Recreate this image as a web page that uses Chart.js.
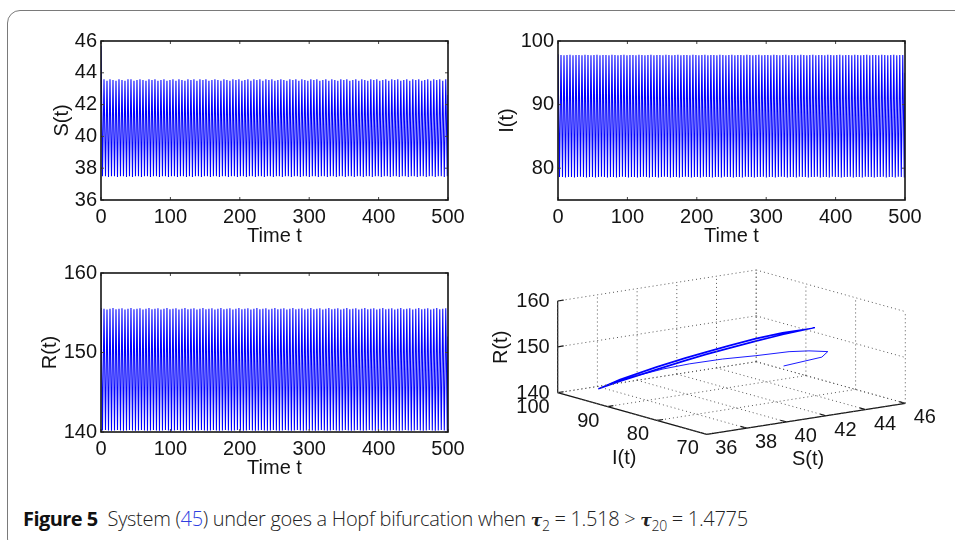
<!DOCTYPE html>
<html>
<head>
<meta charset="utf-8">
<title>Figure 5</title>
<script src="https://cdn.jsdelivr.net/npm/chart.js@4"></script>
<style>
html, body { margin: 0; padding: 0; background: #fff; width: 955px; height: 540px; overflow: hidden; }
#frame { position: absolute; left: 6.5px; top: 10px; width: 960px; height: 540px; border: 1.5px solid #7a7a7a; border-radius: 13px; }
canvas { position: absolute; }
#caption { position: absolute; left: 23px; top: 505px; font: 300 20px "Open Sans", sans-serif; color: #222; white-space: nowrap; letter-spacing: -0.3px; }
#caption b { font-weight: 700; color: #111; margin-right: 5px; letter-spacing: -0.55px; }
#caption span { color: #2f3fe0; }
#caption i { font-family: "DejaVu Serif", serif; font-weight: 700; font-size: 17px; }
#caption sub { font-size: 14px; line-height: 0; }
</style>
</head>
<body>
<div id="frame"></div>
<canvas id="chartS" style="left:40px;top:24px"></canvas>
<canvas id="chartI" style="left:490px;top:24px"></canvas>
<canvas id="chartR" style="left:20px;top:256px"></canvas>
<canvas id="chart3d" style="left:490px;top:260px"></canvas>
<div id="caption"><b>Figure 5</b> System (<span>45</span>) under goes a Hopf bifurcation when <i>τ</i><sub>2</sub> = 1.518 &gt; <i>τ</i><sub>20</sub> = 1.4775</div>

<script>
// time of each turning point
const times = [
  0,2.16,4.32,6.48,8.64,10.8,12.96,15.12,17.28,19.44,
  21.6,23.76,25.92,28.08,30.24,32.4,34.56,36.72,38.88,41.04,
  43.2,45.36,47.52,49.68,51.84,54,56.16,58.32,60.48,62.64,
  64.8,66.96,69.12,71.28,73.44,75.6,77.76,79.92,82.08,84.24,
  86.4,88.56,90.72,92.88,95.04,97.2,99.36,101.52,103.68,105.84,
  108,110.16,112.32,114.48,116.64,118.8,120.96,123.12,125.28,127.44,
  129.6,131.76,133.92,136.08,138.24,140.4,142.56,144.72,146.88,149.04,
  151.2,153.36,155.52,157.68,159.84,162,164.16,166.32,168.48,170.64,
  172.8,174.96,177.12,179.28,181.44,183.6,185.76,187.92,190.08,192.24,
  194.4,196.56,198.72,200.88,203.04,205.2,207.36,209.52,211.68,213.84,
  216,218.16,220.32,222.48,224.64,226.8,228.96,231.12,233.28,235.44,
  237.6,239.76,241.92,244.08,246.24,248.4,250.56,252.72,254.88,257.04,
  259.2,261.36,263.52,265.68,267.84,270,272.16,274.32,276.48,278.64,
  280.8,282.96,285.12,287.28,289.44,291.6,293.76,295.92,298.08,300.24,
  302.4,304.56,306.72,308.88,311.04,313.2,315.36,317.52,319.68,321.84,
  324,326.16,328.32,330.48,332.64,334.8,336.96,339.12,341.28,343.44,
  345.6,347.76,349.92,352.08,354.24,356.4,358.56,360.72,362.88,365.04,
  367.2,369.36,371.52,373.68,375.84,378,380.16,382.32,384.48,386.64,
  388.8,390.96,393.12,395.28,397.44,399.6,401.76,403.92,406.08,408.24,
  410.4,412.56,414.72,416.88,419.04,421.2,423.36,425.52,427.68,429.84,
  432,434.16,436.32,438.48,440.64,442.8,444.96,447.12,449.28,451.44,
  453.6,455.76,457.92,460.08,462.24,464.4,466.56,468.72,470.88,473.04,
  475.2,477.36,479.52,481.68,483.84,486,488.16,490.32,492.48,494.64,
  496.8,498.96,500
];

const valuesS = [
  45.7,37.5,43.6,37.5,43.5,37.45,43.6,37.5,43.55,37.5,
  43.5,37.45,43.6,37.5,43.55,37.5,43.5,37.45,43.6,37.5,
  43.6,37.45,43.5,37.5,43.55,37.5,43.6,37.45,43.55,37.5,
  43.5,37.5,43.6,37.45,43.55,37.5,43.6,37.5,43.5,37.45,
  43.55,37.5,43.6,37.5,43.5,37.45,43.55,37.5,43.6,37.5,
  43.5,37.45,43.6,37.5,43.55,37.5,43.5,37.45,43.6,37.5,
  43.55,37.45,43.6,37.5,43.5,37.5,43.6,37.45,43.55,37.5,
  43.6,37.5,43.5,37.45,43.55,37.5,43.6,37.5,43.55,37.45,
  43.5,37.5,43.6,37.5,43.55,37.45,43.5,37.5,43.6,37.5,
  43.55,37.45,43.6,37.5,43.5,37.5,43.55,37.45,43.6,37.5,
  43.5,37.5,43.6,37.45,43.55,37.5,43.6,37.5,43.5,37.45,
  43.6,37.5,43.55,37.5,43.6,37.45,43.5,37.5,43.55,37.5,
  43.6,37.45,43.55,37.5,43.5,37.5,43.6,37.45,43.55,37.5,
  43.6,37.5,43.5,37.45,43.6,37.5,43.55,37.5,43.5,37.45,
  43.6,37.5,43.55,37.5,43.6,37.45,43.5,37.5,43.55,37.5,
  43.6,37.45,43.5,37.5,43.6,37.5,43.55,37.45,43.5,37.5,
  43.6,37.5,43.55,37.45,43.6,37.5,43.5,37.5,43.55,37.45,
  43.6,37.5,43.5,37.5,43.6,37.45,43.55,37.5,43.5,37.5,
  43.6,37.45,43.55,37.5,43.6,37.5,43.5,37.45,43.55,37.5,
  43.6,37.5,43.5,37.45,43.6,37.5,43.55,37.5,43.6,37.45,
  43.5,37.5,43.55,37.5,43.6,37.45,43.5,37.5,43.6,37.5,
  43.55,37.45,43.6,37.5,43.5,37.5,43.55,37.45,43.6,37.5,
  43.5,37.5,43.6,37.45,43.55,37.5,43.6,37.5,43.5,37.45,
  43.6,37.5,42.6
];

const valuesI = [
  97.9,78.6,97.8,78.6,97.75,78.55,97.8,78.6,97.85,78.6,
  97.75,78.55,97.8,78.6,97.8,78.65,97.75,78.6,97.85,78.55,
  97.8,78.6,97.75,78.6,97.8,78.55,97.85,78.6,97.75,78.65,
  97.8,78.6,97.8,78.55,97.75,78.6,97.85,78.6,97.8,78.55,
  97.75,78.6,97.8,78.65,97.85,78.6,97.75,78.55,97.8,78.6,
  97.8,78.6,97.75,78.55,97.85,78.6,97.8,78.65,97.75,78.6,
  97.8,78.55,97.85,78.6,97.75,78.6,97.8,78.55,97.8,78.6,
  97.75,78.65,97.85,78.6,97.8,78.55,97.75,78.6,97.8,78.6,
  97.85,78.55,97.75,78.6,97.8,78.65,97.8,78.6,97.75,78.55,
  97.85,78.6,97.8,78.6,97.75,78.55,97.8,78.65,97.85,78.6,
  97.75,78.6,97.8,78.55,97.8,78.6,97.75,78.6,97.85,78.55,
  97.8,78.65,97.75,78.6,97.8,78.6,97.85,78.55,97.75,78.6,
  97.8,78.6,97.8,78.55,97.75,78.65,97.85,78.6,97.8,78.6,
  97.75,78.55,97.8,78.6,97.85,78.6,97.75,78.65,97.8,78.55,
  97.8,78.6,97.75,78.6,97.85,78.55,97.8,78.6,97.75,78.65,
  97.8,78.6,97.85,78.55,97.75,78.6,97.8,78.6,97.8,78.55,
  97.75,78.65,97.85,78.6,97.8,78.6,97.75,78.55,97.8,78.6,
  97.85,78.6,97.75,78.65,97.8,78.55,97.8,78.6,97.75,78.6,
  97.85,78.55,97.8,78.65,97.75,78.6,97.8,78.6,97.85,78.55,
  97.75,78.6,97.8,78.6,97.8,78.65,97.75,78.55,97.85,78.6,
  97.8,78.6,97.75,78.55,97.8,78.65,97.85,78.6,97.75,78.6,
  97.8,78.55,97.8,78.6,97.75,78.6,97.85,78.65,97.8,78.55,
  97.75,78.6,97.8,78.6,97.85,78.55,97.75,78.65,97.8,78.6,
  97.8,78.55,95
];

const valuesR = [
  155.6,140.2,155.5,140.25,155.4,140.2,155.5,140.15,155.6,140.2,
  155.45,140.25,155.5,140.2,155.55,140.15,155.4,140.2,155.5,140.25,
  155.6,140.2,155.45,140.15,155.5,140.2,155.55,140.25,155.4,140.2,
  155.5,140.15,155.6,140.2,155.45,140.25,155.5,140.2,155.55,140.15,
  155.4,140.2,155.5,140.25,155.6,140.2,155.45,140.15,155.5,140.2,
  155.55,140.25,155.4,140.2,155.5,140.15,155.6,140.2,155.45,140.25,
  155.5,140.2,155.55,140.15,155.4,140.2,155.5,140.25,155.6,140.2,
  155.45,140.15,155.5,140.2,155.55,140.25,155.4,140.2,155.5,140.15,
  155.6,140.2,155.45,140.25,155.5,140.2,155.55,140.15,155.4,140.2,
  155.5,140.25,155.6,140.2,155.45,140.15,155.5,140.2,155.55,140.25,
  155.4,140.2,155.5,140.15,155.6,140.2,155.45,140.25,155.5,140.2,
  155.55,140.15,155.4,140.2,155.5,140.25,155.6,140.2,155.45,140.15,
  155.5,140.2,155.55,140.25,155.4,140.2,155.5,140.15,155.6,140.2,
  155.45,140.25,155.5,140.2,155.55,140.15,155.4,140.2,155.5,140.25,
  155.6,140.2,155.45,140.15,155.5,140.2,155.55,140.25,155.4,140.2,
  155.5,140.15,155.6,140.2,155.45,140.25,155.5,140.2,155.55,140.15,
  155.4,140.2,155.5,140.25,155.6,140.2,155.45,140.15,155.5,140.2,
  155.55,140.25,155.4,140.2,155.5,140.15,155.6,140.2,155.45,140.25,
  155.5,140.2,155.55,140.15,155.4,140.2,155.5,140.25,155.6,140.2,
  155.45,140.15,155.5,140.2,155.55,140.25,155.4,140.2,155.5,140.15,
  155.6,140.2,155.45,140.25,155.5,140.2,155.55,140.15,155.4,140.2,
  155.5,140.25,155.6,140.2,155.45,140.15,155.5,140.2,155.55,140.25,
  155.4,140.2,155.5,140.15,155.6,140.2,155.45,140.25,155.5,140.2,
  155.55,140.15,152
];

// 3d phase plot: start-up curve, then the closed cycle
const startS = [44,45.2,45.5,44.5,43.5,41.8,40.5,39.5,38.8,38.1,37.5];
const startI = [86.5,83.6,83.6,83.4,83.4,83.3,84.8,87.5,90,95.9,97.8];
const startR = [144.5,146.5,147.5,148.4,148.9,149.2,148.9,147.7,146.3,142.6,140.5];

const cycleS = [
  37.5,38.11,39.13,39.94,40.53,41.16,41.93,42.69,43.6,
  42.69,41.93,41.16,40.53,39.94,39.13,38.11,37.5,
  38.11,39.13,39.94,40.53,41.16,41.93,42.69,43.6,
  42.69,41.93,41.16,40.53,39.94,39.13,38.11,37.5
];
const cycleI = [
  97.8,95.88,92.67,90.12,88.26,86.28,83.84,81.48,78.6,
  81.48,83.84,86.28,88.26,90.12,92.67,95.88,97.8,
  95.88,92.67,90.12,88.26,86.28,83.84,81.48,78.6,
  81.48,83.84,86.28,88.26,90.12,92.67,95.88,97.8
];
const cycleR = [
  140.5,142.62,145.6,147.8,149.3,150.8,152.6,154.07,155.5,
  153.83,152.2,150.4,148.9,147.4,145.2,142.38,140.5,
  142.72,145.72,147.92,149.42,150.92,152.72,154.17,155.5,
  153.73,152.08,150.28,148.78,147.28,145.08,142.28,140.5
];

const ticksTime = [0,100,200,300,400,500];
const ticksS = [36,38,40,42,44,46];
const ticksI = [80,90,100];
const ticksR = [140,150,160];
const ticks3dS = [36,38,40,42,44,46];
const ticks3dI = [70,80,90,100];
const ticks3dR = [140,150,160];

const blue = "#0000ff";
const ink = "#141414";
const fontFamily = "'Liberation Sans', Arial, sans-serif";
const fontSize = 20;

// matlab style box with the tick marks pointing inwards
const boxPlugin = {
  id: "box",
  afterDatasetsDraw(chart) {
    const a = chart.chartArea, ctx = chart.ctx;
    const x = chart.scales.x, y = chart.scales.y;
    ctx.save();
    ctx.strokeStyle = "#444";
    ctx.lineWidth = 1;
    ctx.beginPath();
    x.ticks.forEach(t => {
      const p = x.getPixelForValue(t.value);
      ctx.moveTo(p, a.bottom); ctx.lineTo(p, a.bottom - 3);
      ctx.moveTo(p, a.top); ctx.lineTo(p, a.top + 3);
    });
    y.ticks.forEach(t => {
      const p = y.getPixelForValue(t.value);
      ctx.moveTo(a.left, p); ctx.lineTo(a.left + 3, p);
      ctx.moveTo(a.right, p); ctx.lineTo(a.right - 3, p);
    });
    ctx.stroke();
    ctx.strokeStyle = ink;
    ctx.lineWidth = 1.6;
    ctx.strokeRect(a.left, a.top, a.right - a.left, a.bottom - a.top);
    ctx.restore();
  }
};

function timePanel(id, size, values, yMin, yMax, yTicks, yLabel, leftWidth, titlePad) {
  const canvas = document.getElementById(id);
  canvas.width = size.w;
  canvas.height = size.h;
  canvas.style.width = size.w + "px";
  canvas.style.height = size.h + "px";
  const font = { family: fontFamily, size: fontSize };
  return new Chart(canvas, {
    type: "line",
    data: {
      datasets: [{
        data: times.map((t, i) => ({ x: t, y: values[i] })),
        borderColor: blue,
        borderWidth: 1.05,
        pointRadius: 0,
        tension: 0
      }]
    },
    options: {
      responsive: false,
      animation: false,
      events: [],
      layout: { padding: { top: 17, right: size.right, left: 0, bottom: 0 } },
      plugins: { legend: { display: false }, tooltip: { enabled: false } },
      scales: {
        x: {
          type: "linear",
          min: 0,
          max: 500,
          afterBuildTicks: s => { s.ticks = ticksTime.map(v => ({ value: v })); },
          afterFit: s => { s.height = 50; },
          grid: { display: false, drawTicks: false },
          border: { display: false },
          ticks: { color: ink, font: font, padding: 5, maxRotation: 0, autoSkip: false, callback: v => v },
          title: { display: true, text: "Time t", color: ink, font: font, padding: { top: -3, bottom: 2 } }
        },
        y: {
          type: "linear",
          min: yMin,
          max: yMax,
          afterBuildTicks: s => { s.ticks = yTicks.map(v => ({ value: v })); },
          afterFit: s => { s.width = leftWidth; },
          grid: { display: false, drawTicks: false },
          border: { display: false },
          ticks: { color: ink, font: font, padding: 4, autoSkip: false, callback: v => v },
          title: { display: true, text: yLabel, color: ink, font: font, padding: { top: titlePad, bottom: 0 } }
        }
      }
    },
    plugins: [boxPlugin]
  });
}

timePanel("chartS", { w: 430, h: 226, right: 22 }, valuesS, 36, 46, ticksS, "S(t)", 61, 10);
timePanel("chartI", { w: 437, h: 226, right: 22 }, valuesI, 75, 100, ticksI, "I(t)", 68, 5);
timePanel("chartR", { w: 450, h: 226, right: 22 }, valuesR, 140, 160, ticksR, "R(t)", 81, 18);

// fixed view of the 3d box, gives page coordinates for a data triple
function project(s, i, r) {
  return {
    x: 557.7 + 19.85 * (s - 36) + 4.97 * (100 - i),
    y: 392.7 - 3.1 * (s - 36) + 1.387 * (100 - i) - 4.585 * (r - 140)
  };
}

function segments(list) {
  const pts = [];
  list.forEach(seg => {
    pts.push(project(seg[0][0], seg[0][1], seg[0][2]));
    pts.push(project(seg[1][0], seg[1][1], seg[1][2]));
    pts.push({ x: NaN, y: NaN });
  });
  return pts;
}

const gridSegs = [];
ticks3dS.forEach(s => {
  gridSegs.push([[s, 100, 140], [s, 70, 140]]);
  gridSegs.push([[s, 100, 140], [s, 100, 160]]);
});
ticks3dI.forEach(i => {
  gridSegs.push([[36, i, 140], [46, i, 140]]);
  gridSegs.push([[46, i, 140], [46, i, 160]]);
});
ticks3dR.forEach(r => {
  gridSegs.push([[36, 100, r], [46, 100, r]]);
  gridSegs.push([[46, 100, r], [46, 70, r]]);
});

const axisSegs = [
  [[36, 100, 140], [36, 100, 160]],
  [[36, 100, 140], [36, 70, 140]],
  [[36, 70, 140], [46, 70, 140]]
];
ticks3dS.forEach(s => axisSegs.push([[s, 70, 140], [s, 71.2, 140]]));
ticks3dI.forEach(i => axisSegs.push([[36, i, 140], [36.3, i, 140]]));
ticks3dR.forEach(r => axisSegs.push([[36, 100, r], [36.3, 100, r]]));

const labelPlugin = {
  id: "labels3d",
  afterDatasetsDraw(chart) {
    const ctx = chart.ctx;
    const px = p => ({ x: chart.scales.x.getPixelForValue(p.x), y: chart.scales.y.getPixelForValue(p.y) });
    ctx.save();
    ctx.fillStyle = ink;
    ctx.font = fontSize + "px " + fontFamily;
    ctx.textBaseline = "middle";
    ctx.textAlign = "right";
    ticks3dR.forEach(r => {
      const p = px(project(36, 100, r));
      ctx.fillText(String(r), p.x - 8, p.y + 0.5);
    });
    ticks3dI.forEach(i => {
      const p = px(project(36, i, 140));
      ctx.fillText(String(i), p.x - 8, p.y + 14.5);
    });
    ctx.textAlign = "center";
    ticks3dS.forEach(s => {
      const p = px(project(s, 70, 140));
      ctx.fillText(String(s), p.x + 19.5, p.y + 14.5);
    });
    const iLabel = px(project(36, 85, 140));
    ctx.fillText("I(t)", iLabel.x - 8, iLabel.y + 45);
    const sLabel = px(project(41, 70, 140));
    ctx.fillText("S(t)", sLabel.x + 2, sLabel.y + 41);
    const rLabel = px(project(36, 100, 150));
    ctx.translate(rLabel.x - 56.5, rLabel.y + 0.5);
    ctx.rotate(-Math.PI / 2);
    ctx.fillText("R(t)", 0, 0);
    ctx.restore();
  }
};

const canvas3d = document.getElementById("chart3d");
canvas3d.width = 465;
canvas3d.height = 220;
canvas3d.style.width = "465px";
canvas3d.style.height = "220px";

new Chart(canvas3d, {
  type: "scatter",
  data: {
    datasets: [
      {
        data: segments(gridSegs),
        showLine: true,
        spanGaps: false,
        borderColor: "#555",
        borderWidth: 1,
        borderDash: [1, 3],
        pointRadius: 0
      },
      {
        data: segments(axisSegs),
        showLine: true,
        spanGaps: false,
        borderColor: ink,
        borderWidth: 1.2,
        pointRadius: 0
      },
      {
        data: startS.map((s, i) => project(s, startI[i], startR[i])),
        showLine: true,
        borderColor: blue,
        borderWidth: 0.9,
        pointRadius: 0,
        tension: 0
      },
      {
        data: cycleS.map((s, i) => project(s, cycleI[i], cycleR[i])),
        showLine: true,
        borderColor: blue,
        borderWidth: 1.2,
        pointRadius: 0,
        tension: 0
      }
    ]
  },
  options: {
    responsive: false,
    animation: false,
    events: [],
    layout: { padding: 0 },
    plugins: { legend: { display: false }, tooltip: { enabled: false } },
    scales: {
      x: { type: "linear", display: false, min: 490, max: 955 },
      y: { type: "linear", display: false, min: 260, max: 480, reverse: true }
    }
  },
  plugins: [labelPlugin]
});
</script>
</body>
</html>
